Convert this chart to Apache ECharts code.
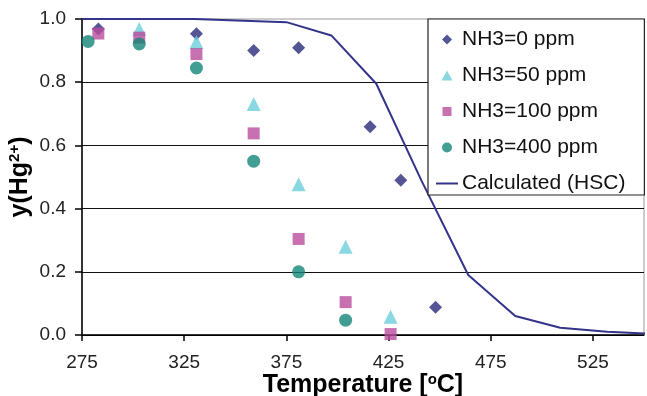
<!DOCTYPE html>
<html><head><meta charset="utf-8">
<script src="https://cdn.jsdelivr.net/npm/echarts@6/dist/echarts.min.js"></script>
<style>html,body{margin:0;padding:0;background:#fff}#c{width:647px;height:396px}</style>
</head><body><div id="c"></div>
<script>
// Temperature [°C] and y(Hg2+) values
const xTickLabels = [275, 325, 375, 425, 475, 525];
const yTickLabels = ['0.0', '0.2', '0.4', '0.6', '0.8', '1.0'];

const seriesNames = ['NH3=0 ppm', 'NH3=50 ppm', 'NH3=100 ppm', 'NH3=400 ppm', 'Calculated (HSC)'];

const tNH3_0 = [283, 331, 359, 381, 416, 431, 448];
const yNH3_0 = [0.968, 0.953, 0.900, 0.909, 0.659, 0.490, 0.088];

const tNH3_50 = [303, 331, 359, 381, 404, 426];
const yNH3_50 = [0.968, 0.927, 0.731, 0.477, 0.279, 0.058];

const tNH3_100 = [283, 303, 331, 359, 381, 404, 426];
const yNH3_100 = [0.954, 0.941, 0.889, 0.638, 0.304, 0.104, 0.003];

const tNH3_400 = [278, 303, 331, 359, 381, 404];
const yNH3_400 = [0.929, 0.921, 0.845, 0.550, 0.200, 0.047];

const tHSC = [275, 330, 375, 397, 419, 441, 464, 487, 509, 532, 551];
const yHSC = [1.0, 1.0, 0.99, 0.948, 0.795, 0.49, 0.19, 0.06, 0.023, 0.01, 0.005];

// x axis is drawn as offset from the first tick so that ticks fall on 275, 325, ...
const X0 = xTickLabels[0];
const pairs = (t, y) => t.map((v, i) => [v - X0, y[i]]);

const colors = ['#2B2B7A', '#6CCEDB', '#B94E9E', '#138678', '#33338A'];
const font = 'Liberation Sans, Arial, sans-serif';

// legend icons padded to a common 22x11 box (degenerate end points keep the symbol small and centred)
const pad = 'M0,5.5L0.001,5.5M22,5.5L21.999,5.5';
const icons = [
  'path://' + pad + 'M11,0.5L16,5.5L11,10.5L6,5.5Z',
  'path://' + pad + 'M11,0.5L16.5,10.5L5.5,10.5Z',
  'path://' + pad + 'M6.5,1L15.5,1L15.5,10L6.5,10Z',
  'path://' + pad + 'M11,0.5A5,5 0 1,1 10.99,0.5Z',
  'path://M0,4.5L22,4.5L22,6.5L0,6.5Z'
];

const chart = echarts.init(document.getElementById('c'), null, {renderer: 'canvas'});
chart.setOption({
  animation: false,
  backgroundColor: '#fff',
  grid: {left: 82, right: 3, top: 19, bottom: 61, outerBoundsMode: 'none', containLabel: false,
    show: true, borderColor: '#9a9a9a', borderWidth: 1, backgroundColor: '#fff'},
  xAxis: {
    type: 'value', min: 0, max: 275, interval: 50,
    axisLine: {show: true, onZero: false, lineStyle: {color: '#000', width: 1.5}},
    axisTick: {show: true, length: 6, lineStyle: {color: '#000', width: 1.5}},
    axisLabel: {margin: 18, fontSize: 19, color: '#222', fontFamily: font, showMaxLabel: false,
      formatter: v => String(v + X0)},
    splitLine: {show: false},
    name: '{a|Temperature [}{s|o}{a|C]}',
    nameLocation: 'middle', nameGap: 37, nameMoveOverlap: false,
    nameTextStyle: {
      rich: {
        a: {fontSize: 25, fontWeight: 'bold', color: '#000', fontFamily: font},
        s: {fontSize: 15, fontWeight: 'bold', color: '#000', fontFamily: font, padding: [0, 0, 11, 0]}
      }
    }
  },
  yAxis: {
    type: 'value', min: 0, max: 1, interval: 0.2,
    axisLine: {show: true, lineStyle: {color: '#000', width: 1.5}},
    axisTick: {show: true, length: 7, lineStyle: {color: '#000', width: 1.5}},
    axisLabel: {margin: 16, fontSize: 19, color: '#222', fontFamily: font,
      formatter: (v) => yTickLabels[Math.round(v / 0.2)]},
    splitLine: {show: true, showMaxLine: false, lineStyle: {color: '#111', width: 1.2}},
    name: '{a|y(Hg}{s|2+}{a|)}',
    nameLocation: 'middle', nameGap: 49, nameRotate: 90, nameMoveOverlap: false,
    nameTextStyle: {
      rich: {
        a: {fontSize: 25, fontWeight: 'bold', color: '#000', fontFamily: font},
        s: {fontSize: 15, fontWeight: 'bold', color: '#000', fontFamily: font, padding: [0, 0, 11, 0]}
      }
    }
  },
  legend: {
    orient: 'vertical', left: 428, top: 19,
    padding: [10, 19, 1, 8],
    itemGap: 15, itemWidth: 22, itemHeight: 11,
    backgroundColor: '#fff', borderColor: '#222', borderWidth: 1.2,
    textStyle: {fontSize: 21, color: '#111', fontFamily: font, padding: [0, 0, 0, -1]},
    data: seriesNames.map((n, i) => ({name: n, icon: icons[i]})),
    z: 10
  },
  series: [
    {name: seriesNames[0], type: 'scatter', symbol: 'diamond', symbolSize: 13, itemStyle: {color: colors[0]}, data: pairs(tNH3_0, yNH3_0), z: 3},
    {name: seriesNames[1], type: 'scatter', symbol: 'triangle', symbolSize: 14, itemStyle: {color: colors[1]}, data: pairs(tNH3_50, yNH3_50), z: 3},
    {name: seriesNames[2], type: 'scatter', symbol: 'rect', symbolSize: 12, itemStyle: {color: colors[2]}, data: pairs(tNH3_100, yNH3_100), z: 3},
    {name: seriesNames[3], type: 'scatter', symbol: 'circle', symbolSize: 13, itemStyle: {color: colors[3]}, data: pairs(tNH3_400, yNH3_400), z: 3},
    {name: seriesNames[4], type: 'line', showSymbol: false, symbol: 'none', lineStyle: {color: colors[4], width: 2}, itemStyle: {color: colors[4]}, data: pairs(tHSC, yHSC), clip: false, z: 2}
  ]
});
</script></body></html>
